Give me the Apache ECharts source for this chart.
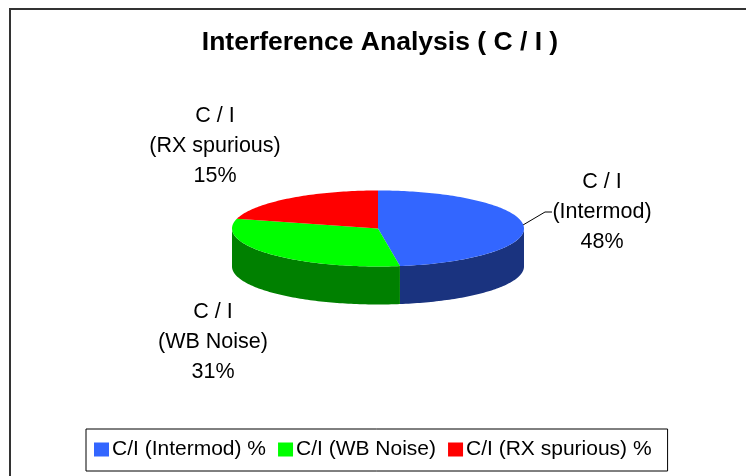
<!DOCTYPE html>
<html>
<head>
<meta charset="utf-8">
<style>
  html, body { margin: 0; padding: 0; background: #fff; }
  #chart { width: 746px; height: 476px; }
</style>
<script src="https://cdn.jsdelivr.net/npm/echarts@6/dist/echarts.min.js"></script>
</head>
<body>
<div id="chart"></div>
<script>
const sliceNames = ["C/I (Intermod) %", "C/I (WB Noise)", "C/I (RX spurious) %"]
// share of the drawn pie
const sliceShares = [47.6, 31.5, 20.9]
// percentages as printed on the labels (the picture prints 15% on the red slice)
const labelPercents = [48, 31, 15]
const labelLines = [["C / I", "(Intermod)"], ["C / I", "(WB Noise)"], ["C / I", "(RX spurious)"]]
const topColors = ["#3366ff", "#00ff00", "#ff0000"]
const sideColors = ["#1a337f", "#008000", "#800000"]

const chart = echarts.init(document.getElementById("chart"))

// pie geometry on the page
const cx = 378, cy = 228.5, rx = 146, ry = 38, depth = 38
const labelPos = [[602, 212], [213, 342], [215, 146]]

const total = sliceShares.reduce((a, b) => a + b, 0)
const point = (angle, dy) => [cx + rx * Math.sin(angle), cy - ry * Math.cos(angle) + dy]

const arcPoints = (from, to, dy) => {
  const steps = Math.max(2, Math.ceil((to - from) / 0.02))
  const pts = []
  for (let i = 0; i <= steps; i++) pts.push(point(from + (to - from) * i / steps, dy))
  return pts
}

const renderSlice = (index) => (params, api) => {
  const from = api.value(0) / total * Math.PI * 2
  const to = api.value(1) / total * Math.PI * 2
  const children = []
  // the wall only shows on the front half of the pie
  const wallFrom = Math.max(from, Math.PI / 2)
  const wallTo = Math.min(to, Math.PI * 1.5)
  if (wallTo > wallFrom) {
    children.push({
      type: "polygon",
      z2: 1,
      shape: { points: arcPoints(wallFrom, wallTo, 0).concat(arcPoints(wallFrom, wallTo, depth).reverse()) },
      style: { fill: sideColors[index] },
    })
  }
  children.push({
    type: "polygon",
    z2: 2,
    shape: { points: [[cx, cy]].concat(arcPoints(from, to, 0)) },
    style: { fill: api.visual("color") },
  })
  return { type: "group", children }
}

let running = 0
const series = sliceNames.map((name, i) => {
  const start = running
  running += sliceShares[i]
  return {
    type: "custom",
    name,
    coordinateSystem: "none",
    silent: true,
    itemStyle: { color: topColors[i] },
    data: [[start, running]],
    renderItem: renderSlice(i),
  }
})

const textFont = "Liberation Sans, Arial, sans-serif"

const option = {
  backgroundColor: "#fff",
  animation: false,
  title: {
    text: "Interference Analysis ( C / I )",
    left: 375,
    top: 24,
    textAlign: "center",
    textStyle: { fontFamily: textFont, fontSize: 26.5, fontWeight: "bold", color: "#000" },
  },
  legend: {
    left: 86,
    top: 429,
    data: sliceNames,
    itemWidth: 15,
    itemHeight: 14,
    itemGap: 12,
    padding: [10, 16, 11, 8],
    borderColor: "#000",
    borderWidth: 1,
    selectedMode: false,
    icon: "rect",
    textStyle: { fontFamily: textFont, fontSize: 21, color: "#000", padding: [0, 0, 0, -2] },
  },
  graphic: [
    {
      type: "polyline",
      shape: { points: [[10, 476], [10, 9], [746, 9]] },
      style: { stroke: "#333", lineWidth: 2, fill: null },
    },
    {
      type: "polyline",
      shape: { points: [[523, 225], [545, 212], [552, 212]] },
      style: { stroke: "#000", lineWidth: 1, fill: null },
    },
  ].concat(labelPos.map((pos, i) => ({
    type: "text",
    x: pos[0],
    y: pos[1],
    style: {
      text: labelLines[i].concat(labelPercents[i] + "%").join("\n"),
      fontFamily: textFont,
      fontSize: 21.5,
      lineHeight: 30,
      fill: "#000",
      align: "center",
      verticalAlign: "middle",
    },
  }))),
  series,
}

chart.setOption(option)
</script>
</body>
</html>
